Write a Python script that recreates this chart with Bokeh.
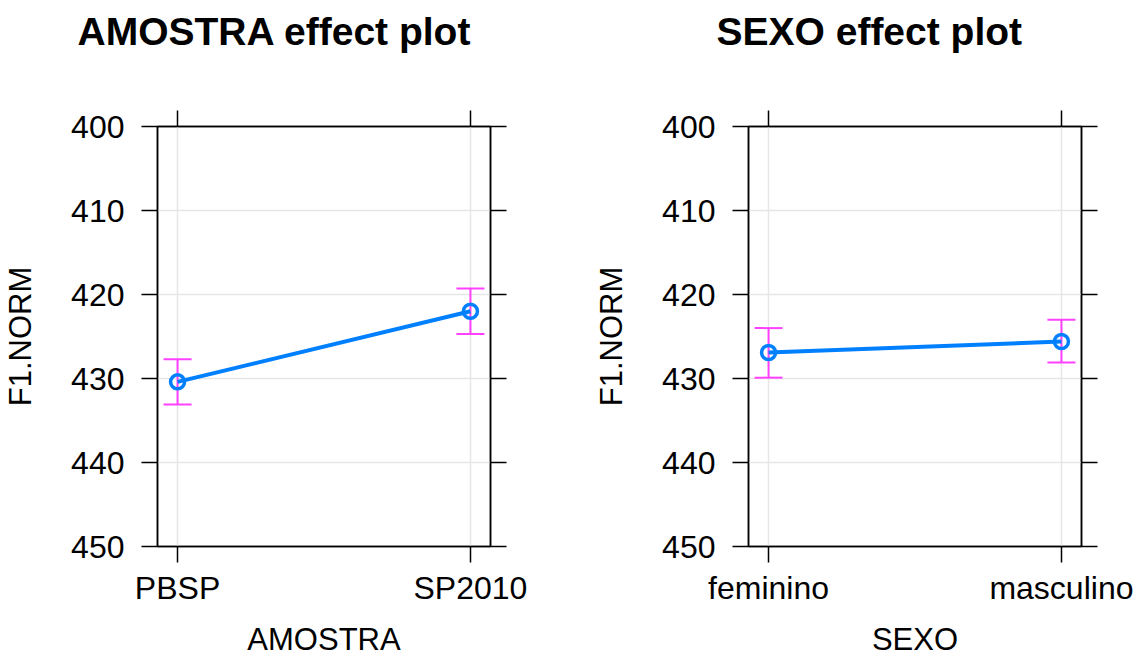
from bokeh.plotting import figure
from bokeh.models import (Range1d, FixedTicker, LinearAxis, Whisker, ColumnDataSource,
                          TeeHead, CustomLabelingPolicy)
from bokeh.layouts import row
from bokeh.embed import file_html
from bokeh.resources import INLINE

# ---- data ----
amostra_levels = ["PBSP", "SP2010"]
amostra_fit = [430.4, 422.0]
amostra_lower = [433.1, 424.7]
amostra_upper = [427.7, 419.3]

sexo_levels = ["feminino", "masculino"]
sexo_fit = [426.9, 425.6]
sexo_lower = [429.9, 428.1]
sexo_upper = [424.0, 423.0]

y_ticks = [400, 410, 420, 430, 440, 450]
y_label = "F1.NORM"

FONT = "Liberation Sans"
BLUE = "#0080ff"
PINK = "#ff40ff"
GRID = "#e6e6e6"

HIDE_CODE = """
for (const i of indices) { indices.unset(i) }
return indices
"""


def style_axis(ax, show_labels=True):
    ax.major_tick_out = 16
    ax.major_tick_in = 0
    ax.minor_tick_out = 0
    ax.minor_tick_in = 0
    ax.axis_line_color = "black"
    ax.axis_line_width = 1.5
    ax.major_tick_line_color = "black"
    ax.major_tick_line_width = 1.5
    ax.major_label_text_font = FONT
    ax.major_label_text_color = "black"
    ax.axis_label_text_font = FONT
    ax.axis_label_text_font_style = "normal"
    ax.axis_label_text_color = "black"
    ax.axis_label_text_font_size = "31px"
    if show_labels:
        ax.major_label_text_font_size = "32px"
    else:
        ax.major_label_text_font_size = "0px"
        ax.major_label_standoff = 0
        ax.major_label_policy = CustomLabelingPolicy(code=HIDE_CODE)


def make_panel(title, xlabel, levels, fit, lower, upper, width, bl, br, title_offset):
    xs = list(range(1, len(levels) + 1))
    p = figure(width=width, height=659,
               x_range=Range1d(0.9315, len(levels) + 0.0685),
               y_range=Range1d(y_ticks[-1], y_ticks[0]),
               output_backend="svg", toolbar_location=None,
               min_border_left=bl, min_border_right=br,
               min_border_top=126, min_border_bottom=113)
    p.background_fill_color = "white"
    p.border_fill_color = "white"
    p.outline_line_color = "black"
    p.outline_line_width = 1.5

    p.xaxis.ticker = FixedTicker(ticks=xs)
    p.xaxis.major_label_overrides = {x: lab for x, lab in zip(xs, levels)}
    p.xaxis.axis_label = xlabel
    p.yaxis.ticker = FixedTicker(ticks=y_ticks)
    p.yaxis.axis_label = y_label
    for ax in p.xaxis:
        style_axis(ax)
        ax.major_label_standoff = 7
        ax.axis_label_standoff = 13
    for ax in p.yaxis:
        style_axis(ax)
        ax.major_label_standoff = 17
        ax.axis_label_standoff = 30

    right = LinearAxis(ticker=FixedTicker(ticks=y_ticks))
    style_axis(right, show_labels=False)
    p.add_layout(right, "right")
    top = LinearAxis(ticker=FixedTicker(ticks=xs))
    style_axis(top, show_labels=False)
    p.add_layout(top, "above")

    p.xgrid.ticker = FixedTicker(ticks=xs)
    p.ygrid.ticker = FixedTicker(ticks=y_ticks)
    p.grid.grid_line_color = GRID
    p.grid.grid_line_width = 1.5

    src = ColumnDataSource(dict(x=xs, fit=fit, lower=lower, upper=upper))
    w = Whisker(base="x", upper="upper", lower="lower", source=src, dimension="height",
                line_color=PINK, line_width=2,
                upper_head=TeeHead(size=28, line_color=PINK, line_width=2),
                lower_head=TeeHead(size=28, line_color=PINK, line_width=2))
    p.add_layout(w)
    p.line("x", "fit", source=src, line_color=BLUE, line_width=4)
    p.scatter("x", "fit", source=src, marker="circle", size=14, fill_alpha=0,
              line_color=BLUE, line_width=3.5)

    p.title.text = title
    p.title.text_font = FONT
    p.title.text_font_size = "39px"
    p.title.text_font_style = "bold"
    p.title.align = "left"
    p.title.offset = title_offset
    p.title.standoff = 0
    p.title.padding = dict(left=0, right=0, top=0, bottom=58)
    p.title.text_color = "black"
    return p


p1 = make_panel("AMOSTRA effect plot", "AMOSTRA", amostra_levels, amostra_fit,
                amostra_lower, amostra_upper, 590, 157, 100, -80)
p2 = make_panel("SEXO effect plot", "SEXO", sexo_levels, sexo_fit,
                sexo_lower, sexo_upper, 547, 158, 56, -32)

layout = row(p1, p2)
open("out.html", "w").write(file_html(layout, INLINE))
